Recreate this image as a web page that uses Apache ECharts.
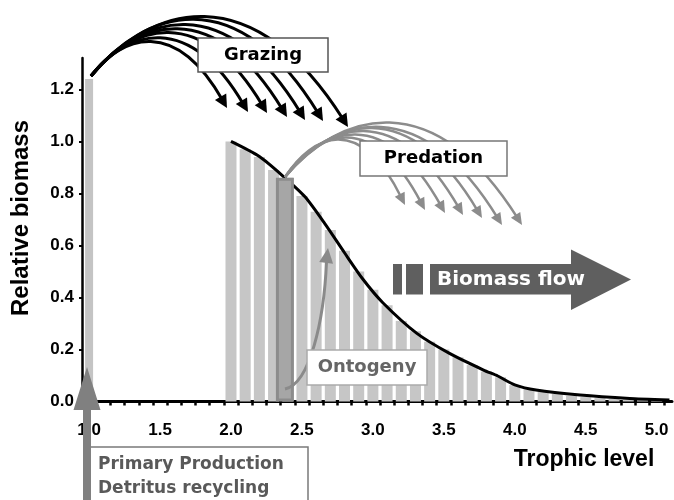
<!DOCTYPE html>
<html>
<head>
<meta charset="utf-8">
<script src="https://cdn.jsdelivr.net/npm/echarts@6/dist/echarts.min.js"></script>
<style>
  html, body { margin: 0; padding: 0; background: #fff; }
  #chart { width: 674px; height: 500px; }
</style>
</head>
<body>
<div id="chart"></div>
<script>
// Primary producers (trophic level 1)
const ppLevel = [1.0];
const ppBiomass = [1.24];

// Consumer biomass spectrum, one bar per 0.1 trophic level
const levels = [2.0, 2.1, 2.2, 2.3, 2.4, 2.5, 2.6, 2.7, 2.8, 2.9,
                3.0, 3.1, 3.2, 3.3, 3.4, 3.5, 3.6, 3.7, 3.8, 3.9,
                4.0, 4.1, 4.2, 4.3, 4.4, 4.5, 4.6, 4.7, 4.8, 4.9, 5.0];
const biomass = [1.00, 0.97, 0.94, 0.89, 0.86, 0.79, 0.73, 0.66, 0.58, 0.50,
                 0.43, 0.37, 0.31, 0.27, 0.23, 0.20, 0.17, 0.14, 0.115, 0.093,
                 0.063, 0.047, 0.038, 0.029, 0.022, 0.017, 0.013, 0.010, 0.008, 0.006, 0.004];

// smooth envelope drawn over the spectrum
const curveLevels = [2.0, 2.2, 2.37, 2.52, 2.66, 2.8, 2.93, 3.07, 3.31, 3.54, 3.78, 3.88, 4.0, 4.15, 4.46, 4.81, 5.09];
const curveBiomass = [1.0, 0.942, 0.865, 0.788, 0.685, 0.572, 0.47, 0.38, 0.262, 0.185, 0.121, 0.098, 0.064, 0.044, 0.025, 0.012, 0.006];

// highlighted ontogenetic stage
const stageLevel = [2.38];
const stageBiomass = [0.86];

// axis labels / ticks
const xLabels = [1.0, 1.5, 2.0, 2.5, 3.0, 3.5, 4.0, 4.5, 5.0];
const xTicks = [1.05, 1.15, 1.25, 1.35, 1.45, 1.55, 1.65, 1.75, 1.85, 1.95,
                2.05, 2.15, 2.25, 2.35, 2.45, 2.55, 2.65, 2.75, 2.85, 2.95,
                3.05, 3.15, 3.25, 3.35, 3.45, 3.55, 3.65, 3.75, 3.85, 3.95,
                4.05, 4.15, 4.25, 4.35, 4.45, 4.55, 4.65, 4.75, 4.85, 4.95, 5.05];
const yLabels = [0.0, 0.2, 0.4, 0.6, 0.8, 1.0, 1.2];

const X_MIN = 0.95, X_MAX = 5.108;

const chart = echarts.init(document.getElementById('chart'), null, { renderer: 'canvas' });

const DIAG_FONT = 'bold 18px "DejaVu Sans"';

// arrow helpers (annotation drawing only)
function head(tip, from, len, hw, color) {
  let dx = tip[0] - from[0], dy = tip[1] - from[1];
  const d = Math.sqrt(dx * dx + dy * dy);
  dx /= d; dy /= d;
  const bx = tip[0] - dx * len, by = tip[1] - dy * len;
  return {
    type: 'polygon', z: 100,
    shape: { points: [tip, [bx - dy * hw, by + dx * hw], [bx + dy * hw, by - dx * hw]] },
    style: { fill: color }
  };
}

function arcArrow(S, E, C, color, width, len, hw) {
  const dx = E[0] - S[0];
  const p1 = [S[0] + 0.23 * dx, S[1] - 0.3125 * C];
  const p2 = [E[0] - 0.38 * dx, E[1] - 0.6875 * C];
  let ux = E[0] - p2[0], uy = E[1] - p2[1];
  const d = Math.sqrt(ux * ux + uy * uy);
  ux /= d; uy /= d;
  const end = [E[0] - ux * len * 0.7, E[1] - uy * len * 0.7];
  return [{
    type: 'bezierCurve', z: 100,
    shape: { x1: S[0], y1: S[1], x2: end[0], y2: end[1], cpx1: p1[0], cpy1: p1[1], cpx2: p2[0], cpy2: p2[1] },
    style: { stroke: color, lineWidth: width, fill: null }
  }, head(E, p2, len, hw, color)];
}

function fan(S, ends, cInner, cOuter, color, width, len, hw) {
  const curves = [], heads = [];
  ends.forEach((E, i) => {
    const C = cInner + (cOuter - cInner) * i / (ends.length - 1);
    const a = arcArrow(S, E, C, color, width, len, hw);
    curves.push(a[0]); heads.push(a[1]);
  });
  return curves.concat(heads);
}

function labelBox(x, y, w, h, stroke, text, color) {
  return [
    { type: 'rect', z: 100, shape: { x: x, y: y, width: w, height: h },
      style: { fill: '#fff', stroke: stroke, lineWidth: 1.5 } },
    { type: 'text', z: 101, x: x + w / 2, y: y + h / 2,
      style: { text: text, font: DIAG_FONT, fill: color, align: 'center', verticalAlign: 'middle' } }
  ];
}

const predEnds = [[405, 205], [425, 210], [445, 213], [463, 215], [482, 218], [502, 225], [522, 225]];
const grazeEnds = [[227, 108], [248, 112], [267, 113], [287, 117], [305, 120], [323, 121], [348, 127]];

const graphics = [].concat(
  fan([285, 177], predEnds, 135, 207, '#8c8c8c', 2.5, 12, 5.5),
  labelBox(360, 141, 147, 35, '#777', 'Predation', '#000'),
  fan([91, 76], grazeEnds, 132, 224, '#000', 3, 13, 6.5),
  labelBox(198, 38, 130, 34, '#555', 'Grazing', '#000'),
  [
    { type: 'bezierCurve', z: 100,
      shape: { x1: 285, y1: 389, cpx1: 310, cpy1: 384, cpx2: 324, cpy2: 320, x2: 326.5, y2: 262 },
      style: { stroke: '#8a8a8a', lineWidth: 3, fill: null } },
    head([328, 248], [326, 264], 15, 7, '#8a8a8a')
  ],
  labelBox(307, 350, 120, 35, '#aaa', 'Ontogeny', '#666'),
  [
    { type: 'rect', z: 100, shape: { x: 393, y: 264, width: 9, height: 30.5 }, style: { fill: '#5f5f5f' } },
    { type: 'rect', z: 100, shape: { x: 406, y: 264, width: 17, height: 30.5 }, style: { fill: '#5f5f5f' } },
    { type: 'polygon', z: 100,
      shape: { points: [[430, 264], [571, 264], [571, 249.5], [631, 279.5], [571, 310], [571, 294.5], [430, 294.5]] },
      style: { fill: '#5f5f5f' } },
    { type: 'text', z: 101, x: 437, y: 280,
      style: { text: 'Biomass flow', font: 'bold 20px "DejaVu Sans"', fill: '#fff', align: 'left', verticalAlign: 'middle' } },
    { type: 'rect', z: 100, shape: { x: 90, y: 447, width: 218, height: 70 },
      style: { fill: '#fff', stroke: '#7a7a7a', lineWidth: 1.5 } },
    { type: 'text', z: 101, x: 98, y: 465,
      style: { text: 'Primary Production', font: 'bold 17px "DejaVu Sans"', fill: '#595959', align: 'left', verticalAlign: 'middle' } },
    { type: 'text', z: 101, x: 98, y: 489,
      style: { text: 'Detritus recycling', font: 'bold 17px "DejaVu Sans"', fill: '#595959', align: 'left', verticalAlign: 'middle' } },
    { type: 'polygon', z: 102,
      shape: { points: [[87, 367], [100.5, 410], [91, 410], [91, 500], [83, 500], [83, 410], [73.5, 410]] },
      style: { fill: '#808080' } },
    // axis titles
    { type: 'text', z: 101, x: 21, y: 218, rotation: Math.PI / 2,
      style: { text: 'Relative biomass', font: 'bold 24px "Liberation Sans"', fill: '#000', align: 'center', verticalAlign: 'middle' } },
    { type: 'text', z: 101, x: 584, y: 460,
      style: { text: 'Trophic level', font: 'bold 23px "Liberation Sans"', fill: '#000', align: 'center', verticalAlign: 'middle' } }
  ]
);

const hiddenX = { type: 'value', min: X_MIN, max: X_MAX, show: false };

const options = {
  animation: false,
  grid: { left: 82, top: 58, width: 590, height: 343.5 },
  xAxis: [
    {
      type: 'value',
      min: X_MIN,
      max: X_MAX,
      splitLine: { show: false },
      axisLine: { show: true, lineStyle: { color: '#000', width: 3 } },
      axisTick: { show: true, customValues: xTicks, length: 4, lineStyle: { color: '#000', width: 2.5 } },
      axisLabel: {
        customValues: xLabels,
        formatter: v => v.toFixed(1),
        margin: 20,
        color: '#000',
        fontFamily: 'Liberation Sans',
        fontWeight: 'bold',
        fontSize: 17
      }
    },
    hiddenX,
    hiddenX
  ],
  yAxis: {
    type: 'value',
    min: 0,
    max: 1.321,
    splitLine: { show: false },
    axisLine: { show: true, lineStyle: { color: '#000', width: 2.5 } },
    axisTick: { show: true, customValues: yLabels, length: 3, lineStyle: { color: '#000', width: 2 } },
    axisLabel: {
      customValues: yLabels,
      formatter: v => v.toFixed(1),
      margin: 8,
      color: '#000',
      fontFamily: 'Liberation Sans',
      fontWeight: 'bold',
      fontSize: 17
    }
  },
  series: [
    {
      name: 'Trophic spectrum',
      type: 'bar',
      xAxisIndex: 0,
      barWidth: 11,
      z: 1,
      itemStyle: { color: '#c6c6c6' },
      data: levels.map((x, i) => [x, biomass[i]])
    },
    {
      name: 'Primary production',
      type: 'bar',
      xAxisIndex: 1,
      barWidth: 8,
      z: 1,
      itemStyle: { color: '#c4c4c4' },
      data: ppLevel.map((x, i) => [x, ppBiomass[i]])
    },
    {
      name: 'Envelope',
      type: 'line',
      xAxisIndex: 0,
      smooth: 0.25,
      showSymbol: false,
      z: 3,
      lineStyle: { color: '#000', width: 3 },
      data: curveLevels.map((x, i) => [x, curveBiomass[i]])
    },
    {
      name: 'Ontogenetic stage',
      type: 'bar',
      xAxisIndex: 2,
      barWidth: 18,
      z: 4,
      itemStyle: { color: '#a6a6a6', borderColor: '#8c8c8c', borderWidth: 3 },
      data: stageLevel.map((x, i) => [x, stageBiomass[i]])
    }
  ],
  graphic: graphics
};

chart.setOption(options);
</script>
</body>
</html>
